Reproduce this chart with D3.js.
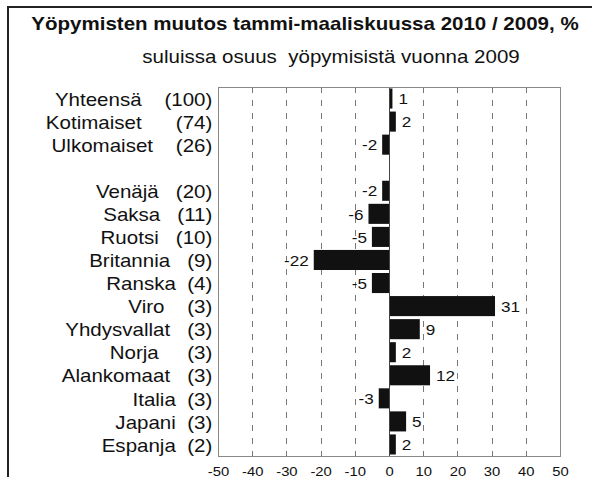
<!DOCTYPE html>
<html lang="fi">
<head>
<meta charset="utf-8">
<script src="https://d3js.org/d3.v7.min.js"></script>
<style>
  body { margin: 0; background: #fff; }
  svg text { font-family: "Liberation Sans", Arial, sans-serif; fill: #111; white-space: pre; }
</style>
</head>
<body>
<script>
const w = 592;
const h = 477;
// the scanned chart is a bit wider than tall, so text is stretched sideways
const stretch = 1.14;

const title = "Yöpymisten muutos tammi-maaliskuussa 2010 / 2009, %";
const subtitle = "suluissa osuus  yöpymisistä vuonna 2009";

// empty entry = blank row between the totals and the countries
const categories = [
    "Yhteensä    (100)",
    "Kotimaiset      (74)",
    "Ulkomaiset    (26)",
    "",
    "Venäjä   (20)",
    "Saksa   (11)",
    "Ruotsi   (10)",
    "Britannia   (9)",
    "Ranska  (4)",
    "Viro    (3)",
    "Yhdysvallat   (3)",
    "Norja     (3)",
    "Alankomaat   (3)",
    "Italia  (3)",
    "Japani  (3)",
    "Espanja  (2)"
];
const changes = [1, 2, -2, null, -2, -6, -5, -22, -5, 31, 9, 2, 12, -3, 5, 2];
const xTicks = [-50, -40, -30, -20, -10, 0, 10, 20, 30, 40, 50];

const plot = { left: 218, right: 560, top: 87, bottom: 456 };

const data = categories.map((c, i) => ({ label: c, value: changes[i] }));

const svg = d3.select("body").append("svg")
    .attr("width", w)
    .attr("height", h);

// outer frame (runs past the right and bottom edges)
svg.append("rect")
    .attr("x", 8).attr("y", 7)
    .attr("width", 700).attr("height", 600)
    .attr("fill", "none")
    .attr("stroke", "#222")
    .attr("stroke-width", 2);

const xScale = d3.scaleLinear()
    .domain([-50, 50])
    .range([plot.left, plot.right]);

const yScale = d3.scaleBand()
    .domain(categories)
    .range([plot.top, plot.bottom])
    .paddingInner(0.13)
    .paddingOuter(0.065);

// dashed grid
svg.selectAll("line.grid")
    .data(xTicks.filter(t => t !== 0 && Math.abs(t) < 50))
    .enter()
    .append("line")
    .attr("class", "grid")
    .attr("x1", d => Math.round(xScale(d)) + 0.5)
    .attr("x2", d => Math.round(xScale(d)) + 0.5)
    .attr("y1", plot.top)
    .attr("y2", plot.bottom)
    .attr("stroke", "#777")
    .attr("stroke-dasharray", "6,7");

// bars
svg.selectAll("rect.bar")
    .data(data.filter(d => d.value !== null))
    .enter()
    .append("rect")
    .attr("class", "bar")
    .attr("x", d => xScale(Math.min(0, d.value)))
    .attr("y", d => yScale(d.label))
    .attr("width", d => Math.abs(xScale(d.value) - xScale(0)))
    .attr("height", yScale.bandwidth())
    .attr("fill", "#111");

// zero line
svg.append("line")
    .attr("x1", Math.round(xScale(0)) + 0.5)
    .attr("x2", Math.round(xScale(0)) + 0.5)
    .attr("y1", plot.top)
    .attr("y2", plot.bottom)
    .attr("stroke", "#444");

// plot border
svg.append("rect")
    .attr("x", plot.left + 0.5)
    .attr("y", plot.top + 0.5)
    .attr("width", plot.right - plot.left)
    .attr("height", plot.bottom - plot.top)
    .attr("fill", "none")
    .attr("stroke", "#888");

// x axis
const xAxis = d3.axisBottom(xScale)
    .tickValues(xTicks)
    .tickSize(0)
    .tickPadding(11)
    .tickFormat(d => String(d));

const gx = svg.append("g")
    .attr("transform", "translate(0," + plot.bottom + ")")
    .call(xAxis);
gx.select(".domain").remove();
gx.selectAll("text")
    .style("font-size", "13px")
    .attr("transform", `scale(${stretch},1)`);

// category labels
const yAxis = d3.axisLeft(yScale)
    .tickSize(0)
    .tickPadding(5);

const gy = svg.append("g")
    .attr("transform", "translate(" + plot.left + ",0)")
    .call(yAxis);
gy.select(".domain").remove();
gy.selectAll("text")
    .style("font-size", "18px")
    .attr("dy", "0.4em")
    .attr("transform", `scale(${stretch},1)`);

// value labels
svg.selectAll("text.value")
    .data(data.filter(d => d.value !== null))
    .enter()
    .append("text")
    .attr("class", "value")
    .attr("transform", d => {
        const xx = d.value >= 0 ? xScale(d.value) + 6 : xScale(d.value) - 5;
        const yy = yScale(d.label) + yScale.bandwidth() / 2;
        return `translate(${xx},${yy}) scale(${stretch},1)`;
    })
    .attr("dy", "0.38em")
    .attr("text-anchor", d => d.value >= 0 ? "start" : "end")
    .style("font-size", "15px")
    .text(d => String(d.value));

// titles
svg.append("text")
    .attr("transform", `translate(305,30) scale(${stretch},1)`)
    .attr("text-anchor", "middle")
    .style("font-size", "18px")
    .style("font-weight", "bold")
    .text(title);

svg.append("text")
    .attr("transform", `translate(331,63) scale(${stretch},1)`)
    .attr("text-anchor", "middle")
    .style("font-size", "18px")
    .text(subtitle);
</script>
</body>
</html>
